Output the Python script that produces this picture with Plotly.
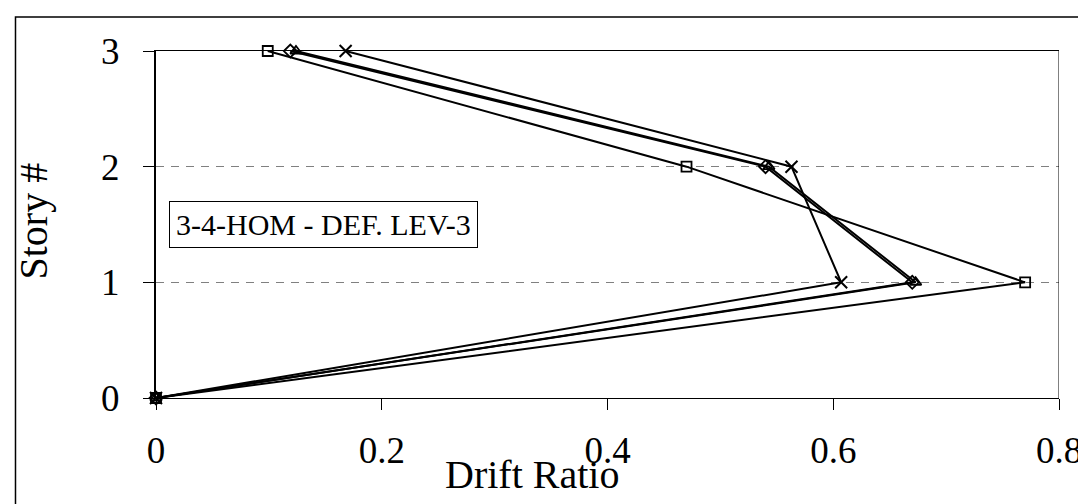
import plotly.graph_objects as go

# Data
stories = [0, 1, 2, 3]
drift_square = [0.0, 0.770, 0.470, 0.099]
drift_triangle = [0.0, 0.673, 0.543, 0.124]
drift_diamond = [0.0, 0.670, 0.540, 0.119]
drift_cross = [0.0, 0.607, 0.563, 0.168]
x_ticks = [0, 0.2, 0.4, 0.6, 0.8]
x_tick_text = ["0", "0.2", "0.4", "0.6", "0.8"]
y_ticks = [0, 1, 2, 3]
y_tick_text = ["0", "1", "2", "3"]
box_label = "3-4-HOM - DEF. LEV-3"

FONT = "Liberation Serif, Times New Roman, serif"

fig = go.Figure()

def add_series(xv, symbol, size, mwidth=1.5):
    fig.add_trace(go.Scatter(
        x=xv, y=stories, mode="lines+markers", cliponaxis=False,
        line=dict(color="black", width=2),
        marker=dict(symbol=symbol, size=size, color="black",
                    line=dict(color="black", width=mwidth)),
        showlegend=False, hoverinfo="x+y"))

add_series(drift_square, "square-open", 10, 1.8)
add_series(drift_diamond, "diamond-open", 10, 1.8)
add_series(drift_triangle, "triangle-up-open", 10, 1.8)
add_series(drift_cross, "x-thin", 12, 2)

fig.update_layout(
    width=1086, height=504,
    margin=dict(l=148, r=32, t=43, b=114),
    plot_bgcolor="white", paper_bgcolor="white",
    font=dict(family=FONT, color="black"),
    showlegend=False,
)
fig.update_xaxes(
    range=[0, 0.8], tickvals=x_ticks, ticktext=x_tick_text,
    ticks="outside", ticklen=11, tickwidth=1, tickcolor="black",
    showline=True, linecolor="black", linewidth=1, mirror=True,
    showgrid=False, zeroline=False,
    tickfont=dict(size=37, family=FONT, color="black"),
    ticklabelstandoff=9,
)
fig.update_yaxes(
    range=[0, 3], tickvals=y_ticks, ticktext=y_tick_text,
    ticks="outside", ticklen=11, tickwidth=1, tickcolor="black",
    showline=True, linecolor="black", linewidth=2, mirror=False,
    showgrid=True, gridcolor="#808080", gridwidth=1, griddash="8px,7px",
    zeroline=False,
    tickfont=dict(size=37, family=FONT, color="black"),
    ticklabelstandoff=16,
)

# right border of plot area
fig.add_shape(type="line", xref="x", yref="y", x0=0.8, x1=0.8, y0=0, y1=3,
              line=dict(color="black", width=1))
# outer chart border
fig.add_shape(type="rect", xref="paper", yref="paper",
              x0=-0.1556, x1=1.0265, y0=-0.4, y1=1.098,
              line=dict(color="black", width=1.5), layer="below")

fig.add_annotation(text=box_label, xref="paper", yref="paper",
                   x=0.0143, y=0.5677, xanchor="left", yanchor="top",
                   showarrow=False, bgcolor="white", bordercolor="black",
                   borderwidth=1, borderpad=6,
                   font=dict(size=30, family=FONT, color="black"))
fig.add_annotation(text="Drift Ratio", xref="paper", yref="paper",
                   x=0.416, y=-0.22, xanchor="center", yanchor="middle",
                   showarrow=False, font=dict(size=40, family=FONT, color="black"))
fig.add_annotation(text="Story #", xref="paper", yref="paper",
                   x=-0.1357, y=0.51, xanchor="center", yanchor="middle",
                   textangle=-90, showarrow=False,
                   font=dict(size=40, family=FONT, color="black"))

fig.write_html("out.html")
